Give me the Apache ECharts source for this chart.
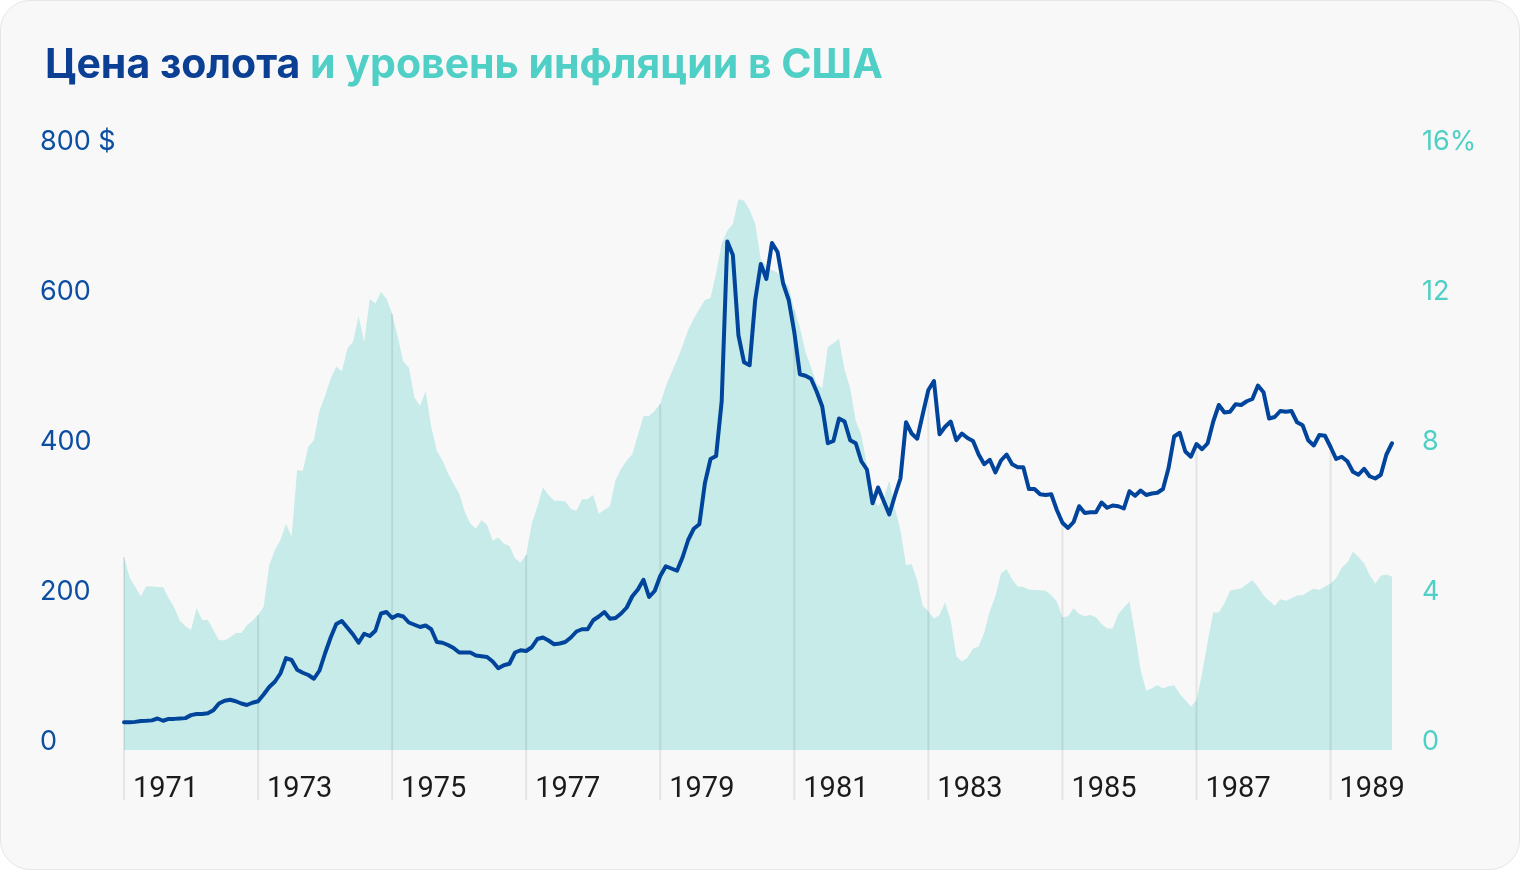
<!DOCTYPE html>
<html>
<head>
<meta charset="utf-8">
<script src="https://cdn.jsdelivr.net/npm/echarts@6/dist/echarts.min.js"></script>
<style>
  html, body { margin: 0; padding: 0; background: #ffffff; }
  #card {
    position: absolute; left: 0; top: 0; width: 1520px; height: 870px;
    box-sizing: border-box; border: 1px solid #e6e6e6; border-radius: 30px;
    background: #f8f8f8;
  }
  #chart { position: absolute; left: 0; top: 0; width: 1520px; height: 870px; }
</style>
</head>
<body>
<div id="card"></div>
<div id="chart"></div>
<script>
// years on the axis, one value per month
const years = ['1971', '1972', '1973', '1974', '1975', '1976', '1977', '1978', '1979', '1980',
  '1981', '1982', '1983', '1984', '1985', '1986', '1987', '1988', '1989']

// gold price, $ per ounce, monthly
const gold = [
  37, 37, 37.5, 38.7, 39, 39.5, 42, 39, 41.5, 41.5, 42, 42.5,
  46.5, 48, 48, 49, 53, 62, 65.7, 67, 65, 62, 60, 63,
  65, 74, 84, 91, 102, 122.5, 120, 107, 103, 100, 95, 106,
  129, 150, 168, 172, 163, 154, 143, 155, 152, 159, 182, 184,
  176, 180, 178, 170, 167, 164, 166, 161, 144, 143, 140, 136,
  130, 130, 130, 126, 125, 124, 118, 109, 113, 115, 130, 133,
  132, 137, 148, 150, 146, 141, 142, 144, 150, 158, 161, 161,
  173, 178, 184, 175, 176, 182, 190, 205, 214, 227, 204, 212,
  232, 245, 242, 239, 257, 280, 295, 301, 356, 388, 392, 465,
  678, 660, 553, 517, 513, 600, 648, 628, 676, 664, 622, 600,
  557, 501, 499, 495, 478, 458, 409, 412, 442, 438, 413, 409,
  385, 374, 329, 350, 332, 314, 339, 362, 437, 422, 415, 448,
  480, 492, 421, 431, 438, 413, 422, 416, 412, 394, 381, 387,
  370, 386, 394, 381, 377, 377, 348, 348, 341, 340, 341, 320,
  303, 296, 304, 325, 316, 317, 317, 330, 323, 326, 325, 322,
  345, 339, 346, 340, 342, 343, 348, 376, 418, 423, 398, 391,
  408, 401, 409, 438, 460, 450, 451, 461, 460, 465, 468, 486,
  477, 442, 444, 452, 451, 452, 437, 433, 413, 406, 420, 419,
  404, 388, 391, 385, 371, 367, 375, 365, 362, 367, 394, 409
]

// US inflation, % year on year, monthly
const inflation = [
  5.15, 4.6, 4.35, 4.1, 4.37, 4.36, 4.35, 4.34, 4.05, 3.8, 3.45, 3.3,
  3.2, 3.78, 3.47, 3.47, 3.2, 2.93, 2.93, 3.0, 3.12, 3.12, 3.33, 3.45,
  3.6, 3.82, 4.93, 5.33, 5.6, 6.03, 5.69, 7.47, 7.44, 8.09, 8.27, 9.05,
  9.45, 9.91, 10.22, 10.1, 10.71, 10.89, 11.57, 10.89, 12.03, 11.91, 12.22, 12.03,
  11.64, 11.02, 10.36, 10.2, 9.4, 9.18, 9.56, 8.62, 7.98, 7.73, 7.38, 7.1,
  6.84, 6.36, 6.04, 5.9, 6.13, 6.0, 5.58, 5.67, 5.51, 5.44, 5.11, 5.0,
  5.2, 6.04, 6.49, 7.0, 6.8, 6.65, 6.65, 6.63, 6.43, 6.38, 6.69, 6.69,
  6.8, 6.3, 6.4, 6.5, 7.2, 7.5, 7.72, 7.89, 8.4, 8.91, 8.91, 9.05,
  9.23, 9.7, 10.06, 10.4, 10.78, 11.2, 11.5, 11.76, 12.0, 12.06, 12.7, 13.5,
  13.85, 14.03, 14.69, 14.65, 14.4, 14.03, 13.08, 12.9, 12.8, 12.73, 12.53, 12.36,
  11.74, 11.28, 10.61, 10.21, 9.77, 9.65, 10.75, 10.85, 10.97, 10.14, 9.65, 8.78,
  8.4, 7.6, 6.8, 6.5, 6.7, 7.18, 6.46, 5.87, 4.93, 4.96, 4.53, 3.84,
  3.7, 3.5, 3.6, 3.94, 3.45, 2.5, 2.36, 2.46, 2.71, 2.76, 3.13, 3.7,
  4.1, 4.71, 4.82, 4.55, 4.36, 4.35, 4.28, 4.27, 4.26, 4.25, 4.13, 3.96,
  3.54, 3.57, 3.78, 3.63, 3.57, 3.6, 3.54, 3.36, 3.24, 3.24, 3.63, 3.8,
  3.96, 3.1, 2.13, 1.58, 1.65, 1.73, 1.64, 1.7, 1.73, 1.5, 1.33, 1.16,
  1.33, 2.04, 2.89, 3.67, 3.67, 3.91, 4.25, 4.28, 4.31, 4.42, 4.53, 4.35,
  4.13, 3.98, 3.85, 4.02, 3.98, 4.05, 4.12, 4.13, 4.22, 4.31, 4.27, 4.36,
  4.44, 4.58, 4.86, 5.0, 5.29, 5.15, 4.98, 4.67, 4.44, 4.65, 4.68, 4.62
]

const months = []
years.forEach(y => {
  for (let m = 1; m <= 12; m++) months.push(y + '-' + (m < 10 ? '0' + m : m))
})

// tick lines every second year, they run up to the higher of the two marks
const tickData = []
months.forEach((m, i) => {
  if (i % 24 === 0) tickData.push([i, gold[i], inflation[i] * 50])
})

const blue = '#00459b'
const teal = '#4fcfc5'
const titleFont = 'Inter, Roboto, sans-serif'
const font = 'Roboto, sans-serif'

const chart = echarts.init(document.getElementById('chart'))
chart.setOption({
  animation: false,
  backgroundColor: 'transparent',
  title: {
    left: 40,
    top: 36,
    text: '{a|Цена золота}{b| и уровень инфляции в США}',
    textStyle: {
      rich: {
        a: { fontFamily: titleFont, fontSize: 41, fontWeight: 700, color: '#0a3f94', lineHeight: 50 },
        b: { fontFamily: titleFont, fontSize: 41, fontWeight: 700, color: teal, lineHeight: 50 }
      }
    }
  },
  grid: { left: 124, right: 128, top: 150, bottom: 120 },
  xAxis: {
    type: 'category',
    data: months,
    boundaryGap: false,
    axisLine: { show: false },
    axisTick: { show: false },
    splitLine: { show: false },
    axisLabel: {
      interval: (index) => index % 24 === 0,
      formatter: (v) => v.slice(0, 4),
      align: 'left',
      padding: [0, 0, 0, 9],
      margin: 25,
      fontFamily: font,
      fontSize: 29,
      color: '#1b1b1b'
    }
  },
  yAxis: [
    {
      type: 'value',
      position: 'left',
      min: 0,
      max: 800,
      interval: 200,
      axisLine: { show: false },
      axisTick: { show: false },
      splitLine: { show: false },
      axisLabel: {
        formatter: (v) => v === 800 ? '800 $' : String(v),
        align: 'left',
        margin: 84,
        verticalAlign: 'bottom',
        lineHeight: 16,
        fontFamily: titleFont,
        fontSize: 27,
        color: '#0b4ea2'
      }
    },
    {
      type: 'value',
      position: 'right',
      min: 0,
      max: 16,
      interval: 4,
      axisLine: { show: false },
      axisTick: { show: false },
      splitLine: { show: false },
      axisLabel: {
        formatter: (v) => v === 16 ? '16%' : String(v),
        align: 'left',
        margin: 30,
        verticalAlign: 'bottom',
        lineHeight: 16,
        fontFamily: titleFont,
        fontSize: 27,
        color: teal
      }
    }
  ],
  series: [
    {
      name: 'Инфляция',
      type: 'line',
      yAxisIndex: 1,
      data: inflation,
      showSymbol: false,
      lineStyle: { width: 0 },
      areaStyle: { color: '#c6ebe8', opacity: 1 },
      z: 1
    },
    {
      type: 'custom',
      yAxisIndex: 0,
      data: tickData,
      clip: false,
      z: 2,
      renderItem: (params, api) => {
        const i = api.value(0)
        const a = api.coord([i, api.value(1)])
        const b = api.coord([i, api.value(2)])
        const base = api.coord([i, 0])
        return {
          type: 'line',
          shape: { x1: a[0], y1: Math.min(a[1], b[1]), x2: a[0], y2: base[1] + 50 },
          style: { stroke: 'rgba(0,0,0,0.08)', lineWidth: 2 }
        }
      }
    },
    {
      name: 'Золото',
      type: 'line',
      yAxisIndex: 0,
      data: gold,
      showSymbol: false,
      lineStyle: { color: blue, width: 4, cap: 'round', join: 'round' },
      z: 3
    }
  ]
})
</script>
</body>
</html>
